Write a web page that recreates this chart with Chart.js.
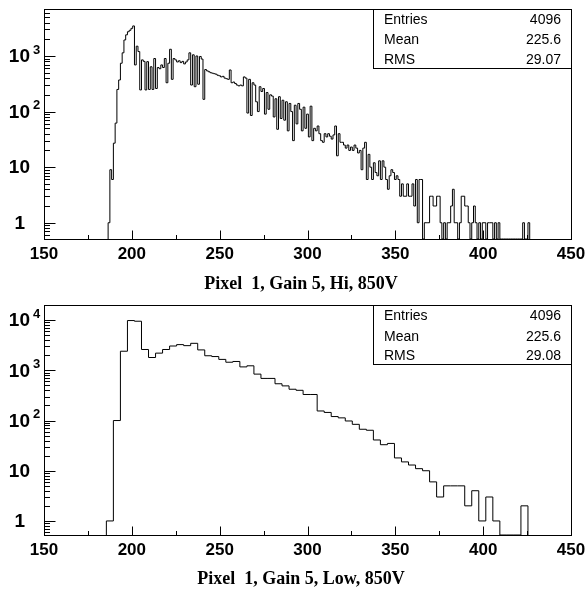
<!DOCTYPE html>
<html>
<head>
<meta charset="utf-8">
<script src="https://cdn.jsdelivr.net/npm/chart.js@4/dist/chart.umd.min.js"></script>
<style>
  html, body { margin: 0; padding: 0; background: #fff; }
  .pad { position: absolute; left: 0; }
  #hiPad { top: 0; }
  #lowPad { top: 295px; }
</style>
</head>
<body>
<div class="pad" id="hiPad"><canvas id="hiChart" width="585" height="295"></canvas></div>
<div class="pad" id="lowPad"><canvas id="lowChart" width="585" height="300"></canvas></div>
<script>
// ---- data ----
// Hi gain: 1-unit bins, first bin spans 186.5-187.5
const hiFirstEdge = 186.5;
const hiBinWidth = 1;
const hiCounts = [
  1, 9, 6, 27, 62, 250, 370, 740, 1140, 1940, 2400, 2730, 2900, 3140, 3470,
  690, 1500, 1200, 245, 850, 800, 245, 790, 250, 640,
  250, 900, 260, 620, 590, 690, 620, 900, 330, 740,
  1320, 380, 900, 850, 780, 820, 760, 800, 720, 780,
  850, 1140, 300, 1050, 280, 1000, 310, 980, 880, 166,
  570, 540, 520, 500, 490, 480, 470, 450, 440, 420,
  430, 400, 390, 380, 560, 330, 340, 320, 300, 290,
  300, 290, 420, 400, 94, 380, 85, 330, 300, 150,
  100, 280, 230, 260, 90, 220, 110, 200, 190, 80,
  170, 48, 185, 75, 160, 70, 150, 45, 140, 100,
  30, 130, 60, 140, 110, 45, 120, 50, 90, 35,
  125, 30, 50, 45, 55, 40, 30, 28, 40, 35,
  40, 36, 32, 38, 55, 16, 40, 28, 28, 25,
  22, 25, 20, 23, 20, 25, 22, 18, 20, 9,
  22, 28, 6, 17, 10, 6, 12, 8, 7, 13,
  6, 13, 10, 6, 4, 7, 9, 8, 6, 7,
  6, 3, 5, 3, 3, 5, 3, 3, 5, 2,
  6, 1, 6, 6, 0, 1, 1, 1, 3, 3,
  2, 2, 3, 3, 1, 0, 1, 0, 1, 1,
  2, 4, 1, 1, 0, 1, 3, 3, 2, 2,
  1, 0, 1, 2, 1, 0, 1, 0, 1, 1,
  0, 1, 1, 1, 0, 1, 0, 1, 0, 0,
  0, 0, 0, 0, 0, 0, 0, 0, 0, 0,
  0, 1, 0, 0, 1
];

// Low gain: 4-unit bins, first bin spans 185.5-189.5
const lowFirstEdge = 185.5;
const lowBinWidth = 4;
const lowCounts = [
  1, 100, 2400, 9800, 9500, 2600, 1800, 2200, 2600, 3050,
  3250, 3100, 3450, 2550, 1950, 1880, 1650, 1450, 1500, 1170,
  1230, 840, 690, 690, 540, 490, 420, 400, 330, 330,
  155, 145, 120, 113, 98, 84, 67, 64, 41, 33,
  35, 18, 15, 13, 11, 10, 6, 3, 5, 5,
  5, 2, 4, 1, 3, 1, 0, 0, 0, 2
];

const xTicks = [150, 200, 250, 300, 350, 400, 450];
const xMinorTicks = [175, 225, 275, 325, 375, 425];
const hiDecades = [0, 1, 2, 3];
const lowDecades = [0, 1, 2, 3, 4];
const statNames = ['Entries', 'Mean', 'RMS'];
const hiStats = ['4096', '225.6', '29.07'];
const lowStats = ['4096', '225.6', '29.08'];

// step outline through bin edges; empty bins sit on the axis floor
function histPoints(firstEdge, width, counts, floor) {
  const pts = [{x: firstEdge, y: floor}];
  counts.forEach((c, i) => pts.push({x: firstEdge + i * width, y: c > 0 ? c : floor}));
  const end = firstEdge + counts.length * width;
  const last = counts[counts.length - 1];
  pts.push({x: end, y: last > 0 ? last : floor});
  pts.push({x: end, y: floor});
  return pts;
}

const sansBold = '"Liberation Sans", Arial, Helvetica, sans-serif';

// ROOT-like frame, ticks, labels, stats box and caption
const rootPad = {
  id: 'rootPad',
  afterDatasetsDraw(chart, args, opts) {
    const ctx = chart.ctx;
    const a = chart.chartArea;
    const xs = chart.scales.x, ys = chart.scales.y;
    const L = Math.round(a.left) + 0.5, R = Math.round(a.right) + 0.5;
    const T = Math.round(a.top) + 0.5, B = Math.round(a.bottom) + 0.5;
    ctx.save();
    ctx.strokeStyle = '#000';
    ctx.lineWidth = 1;

    // stats box
    const bx = opts.statsLeft + 0.5;
    ctx.fillStyle = '#fff';
    ctx.fillRect(bx, T, R - bx, opts.statsHeight);
    ctx.strokeRect(bx, T, R - bx, opts.statsHeight);
    ctx.fillStyle = '#000';
    ctx.font = '14px ' + sansBold;
    ctx.textBaseline = 'middle';
    statNames.forEach((n, i) => {
      const y = T + opts.statsRows[i];
      ctx.textAlign = 'left';
      ctx.fillText(n, bx + 10.5, y);
      ctx.textAlign = 'right';
      ctx.fillText(opts.stats[i], R - 10.5, y);
    });

    // frame
    ctx.strokeRect(L, T, R - L, B - T);

    // x ticks
    ctx.beginPath();
    xTicks.forEach(v => {
      const px = Math.round(xs.getPixelForValue(v)) + 0.5;
      ctx.moveTo(px, B); ctx.lineTo(px, B - 9);
    });
    xMinorTicks.forEach(v => {
      const px = Math.round(xs.getPixelForValue(v)) + 0.5;
      ctx.moveTo(px, B); ctx.lineTo(px, B - 4.5);
    });
    // y ticks (log)
    for (let d = -1; d <= 5; d++) {
      for (let k = 1; k <= 9; k++) {
        const v = k * Math.pow(10, d);
        if (v < ys.min || v > ys.max) continue;
        const py = Math.round(ys.getPixelForValue(v)) + 0.5;
        ctx.moveTo(L, py); ctx.lineTo(L + (k === 1 ? 11 : 5.5), py);
      }
    }
    ctx.stroke();

    // x labels
    ctx.font = 'bold 17px ' + sansBold;
    ctx.textAlign = 'center';
    ctx.textBaseline = 'alphabetic';
    xTicks.forEach(v => ctx.fillText(String(v), xs.getPixelForValue(v), B + 19));

    // y labels
    ctx.textBaseline = 'middle';
    opts.decades.forEach(d => {
      const py = ys.getPixelForValue(Math.pow(10, d));
      ctx.font = 'bold 19px ' + sansBold;
      ctx.textAlign = 'right';
      if (d === 0) {
        ctx.fillText('1', 25, py + 1);
      } else {
        ctx.fillText('10', 30, py + 1);
        if (d > 1) {
          ctx.font = 'bold 13px ' + sansBold;
          ctx.textAlign = 'left';
          ctx.fillText(String(d), 33, py - 6);
        }
      }
    });

    // caption
    ctx.font = 'bold 18px "Liberation Serif", "Times New Roman", serif';
    ctx.textAlign = 'center';
    ctx.textBaseline = 'middle';
    ctx.fillText(opts.title, 301, opts.titleY);
    ctx.restore();
  }
};

function makePad(canvasId, firstEdge, width, counts, yMin, yMax, pad, extra) {
  return new Chart(document.getElementById(canvasId), {
    type: 'line',
    data: {
      datasets: [{
        data: histPoints(firstEdge, width, counts, yMin),
        borderColor: '#000',
        borderWidth: 1,
        stepped: 'before',
        pointRadius: 0,
        fill: false
      }]
    },
    options: {
      responsive: false,
      animation: false,
      layout: { padding: pad },
      plugins: {
        legend: { display: false },
        tooltip: { enabled: false },
        rootPad: extra
      },
      scales: {
        x: { type: 'linear', min: 150, max: 450, display: false },
        y: { type: 'logarithmic', min: yMin, max: yMax, display: false }
      }
    },
    plugins: [rootPad]
  });
}

makePad('hiChart', hiFirstEdge, hiBinWidth, hiCounts, 0.51, 7000,
  { left: 44, right: 14, top: 9, bottom: 56 },
  { decades: hiDecades, stats: hiStats, statsLeft: 373, statsHeight: 59,
    statsRows: [10.5, 30.5, 51], title: 'Pixel  1, Gain 5, Hi, 850V', titleY: 284 });

makePad('lowChart', lowFirstEdge, lowBinWidth, lowCounts, 0.525, 20000,
  { left: 44, right: 14, top: 10, bottom: 60 },
  { decades: lowDecades, stats: lowStats, statsLeft: 373, statsHeight: 59,
    statsRows: [10.5, 31.5, 51], title: 'Pixel  1, Gain 5, Low, 850V', titleY: 284 });
</script>
</body>
</html>
